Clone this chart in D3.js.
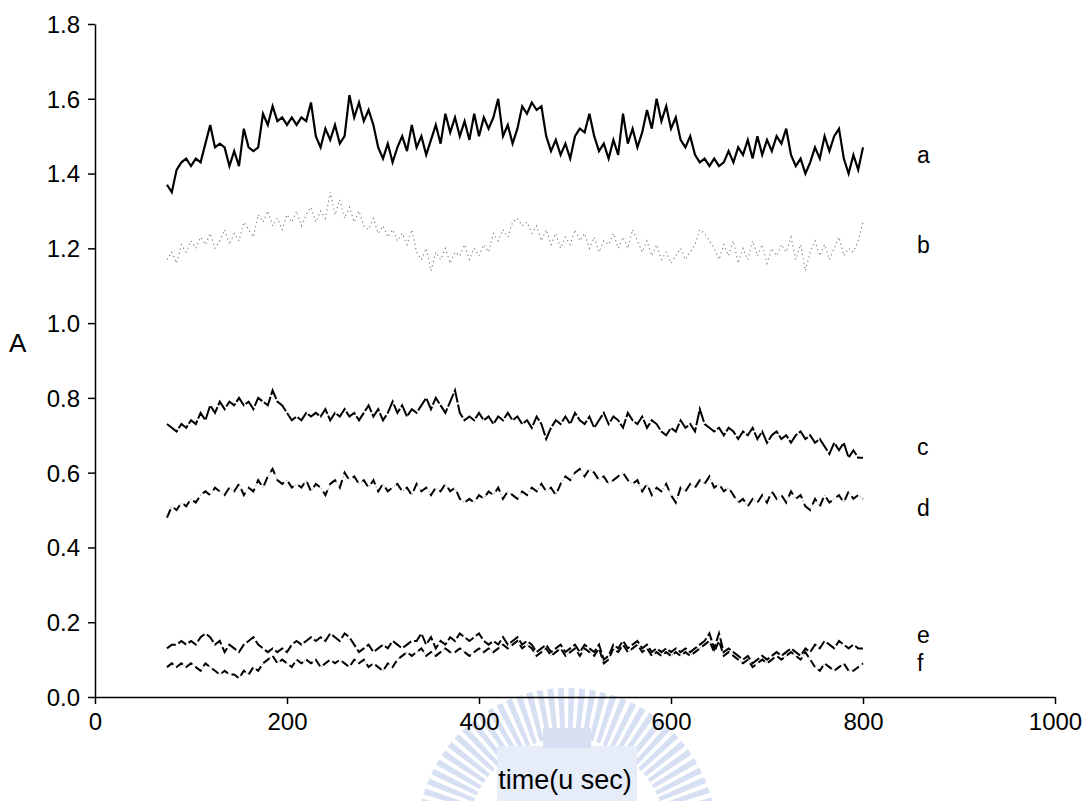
<!DOCTYPE html>
<html>
<head>
<meta charset="utf-8">
<script src="https://cdn.jsdelivr.net/npm/d3@7"></script>
<style>
  body { margin: 0; background: #fff; }
  svg text { font-family: "Liberation Sans", Arial, sans-serif; fill: #000; }
</style>
</head>
<body>
<div id="chart"></div>
<script>
var width = 1089
var height = 801

// sample times, every 5 u sec from 75 to 800
var times = d3.range(75, 801, 5)

var seriesA = [
  1.37, 1.35, 1.41, 1.43, 1.44, 1.42, 1.44, 1.43, 1.48, 1.53,
  1.47, 1.48, 1.47, 1.42, 1.46, 1.42, 1.52, 1.47, 1.46, 1.47,
  1.56, 1.53, 1.58, 1.54, 1.55, 1.53, 1.55, 1.53, 1.55, 1.54,
  1.59, 1.50, 1.47, 1.52, 1.49, 1.53, 1.48, 1.50, 1.61, 1.55,
  1.59, 1.54, 1.57, 1.53, 1.47, 1.44, 1.48, 1.43, 1.47, 1.50,
  1.46, 1.53, 1.47, 1.50, 1.45, 1.49, 1.53, 1.48, 1.56, 1.51,
  1.55, 1.50, 1.54, 1.49, 1.56, 1.50, 1.55, 1.52, 1.55, 1.60,
  1.50, 1.53, 1.48, 1.52, 1.58, 1.56, 1.59, 1.57, 1.58, 1.50,
  1.46, 1.49, 1.45, 1.48, 1.44, 1.50, 1.52, 1.51, 1.56, 1.50,
  1.46, 1.48, 1.44, 1.49, 1.45, 1.56, 1.48, 1.52, 1.47, 1.51,
  1.57, 1.52, 1.60, 1.54, 1.58, 1.52, 1.55, 1.49, 1.47, 1.50,
  1.45, 1.43, 1.44, 1.42, 1.44, 1.42, 1.43, 1.46, 1.43, 1.47,
  1.45, 1.49, 1.44, 1.50, 1.45, 1.49, 1.46, 1.50, 1.48, 1.52,
  1.45, 1.42, 1.44, 1.40, 1.43, 1.47, 1.44, 1.50, 1.46, 1.50,
  1.52, 1.44, 1.40, 1.45, 1.41, 1.47
]

var seriesB = [
  1.17, 1.19, 1.16, 1.21, 1.19, 1.22, 1.20, 1.23, 1.21, 1.24,
  1.20, 1.22, 1.25, 1.21, 1.24, 1.22, 1.27, 1.25, 1.23, 1.29,
  1.27, 1.30, 1.26, 1.28, 1.25, 1.29, 1.27, 1.30, 1.26, 1.29,
  1.31, 1.27, 1.30, 1.28, 1.35, 1.29, 1.33, 1.28, 1.31, 1.27,
  1.30, 1.26, 1.25, 1.28, 1.24, 1.26, 1.23, 1.25, 1.22, 1.24,
  1.21, 1.25, 1.19, 1.17, 1.20, 1.14, 1.19, 1.17, 1.20, 1.16,
  1.19, 1.18, 1.21, 1.17, 1.20, 1.18, 1.21, 1.19, 1.24, 1.22,
  1.25, 1.23, 1.27, 1.28, 1.26, 1.27, 1.24, 1.26, 1.22, 1.25,
  1.21, 1.24, 1.20, 1.23, 1.21, 1.25, 1.22, 1.24, 1.20, 1.23,
  1.19, 1.22, 1.21, 1.24, 1.20, 1.23, 1.20, 1.25, 1.22, 1.19,
  1.22, 1.18, 1.21, 1.17, 1.19, 1.16, 1.18, 1.20, 1.17, 1.19,
  1.21, 1.25, 1.24, 1.22, 1.20, 1.17, 1.21, 1.18, 1.22, 1.16,
  1.20, 1.17, 1.22, 1.18, 1.21, 1.16, 1.20, 1.18, 1.21, 1.19,
  1.23, 1.17, 1.21, 1.14, 1.19, 1.22, 1.18, 1.21, 1.17, 1.20,
  1.23, 1.18, 1.20, 1.19, 1.22, 1.27
]

var seriesC = [
  0.73, 0.72, 0.71, 0.73, 0.72, 0.74, 0.73, 0.76, 0.74, 0.78,
  0.76, 0.79, 0.77, 0.79, 0.78, 0.80, 0.78, 0.79, 0.77, 0.80,
  0.79, 0.78, 0.82, 0.79, 0.78, 0.76, 0.74, 0.75, 0.74, 0.76,
  0.75, 0.76, 0.75, 0.77, 0.74, 0.76, 0.75, 0.77, 0.75, 0.76,
  0.74, 0.76, 0.78, 0.75, 0.77, 0.74, 0.76, 0.79, 0.76, 0.78,
  0.75, 0.77, 0.76, 0.78, 0.80, 0.77, 0.80, 0.78, 0.76, 0.79,
  0.82, 0.76, 0.74, 0.75, 0.74, 0.76, 0.74, 0.75, 0.73, 0.75,
  0.74, 0.76, 0.74, 0.75, 0.73, 0.74, 0.72, 0.75, 0.73, 0.69,
  0.72, 0.74, 0.73, 0.75, 0.73, 0.76, 0.74, 0.73, 0.75, 0.72,
  0.74, 0.76, 0.73, 0.75, 0.74, 0.72, 0.76, 0.74, 0.73, 0.75,
  0.72, 0.74, 0.73, 0.71, 0.70, 0.72, 0.71, 0.74, 0.72, 0.73,
  0.71, 0.77, 0.73, 0.72, 0.71, 0.72, 0.70, 0.72, 0.71, 0.69,
  0.71, 0.70, 0.72, 0.69, 0.71, 0.68, 0.70, 0.71, 0.69, 0.70,
  0.68, 0.70, 0.71, 0.69, 0.70, 0.68, 0.69, 0.67, 0.65, 0.68,
  0.66, 0.68, 0.64, 0.66, 0.64, 0.64
]

var seriesD = [
  0.48, 0.51, 0.50, 0.52, 0.51, 0.53, 0.52, 0.54, 0.55, 0.54,
  0.56, 0.55, 0.54, 0.56, 0.55, 0.57, 0.54, 0.56, 0.55, 0.58,
  0.56, 0.59, 0.61, 0.58, 0.57, 0.58, 0.56, 0.57, 0.56, 0.58,
  0.55, 0.57, 0.56, 0.54, 0.57, 0.58, 0.56, 0.60, 0.58, 0.59,
  0.57, 0.58, 0.56, 0.58, 0.55, 0.57, 0.55, 0.56, 0.57, 0.55,
  0.56, 0.54, 0.57, 0.55, 0.56, 0.54, 0.56, 0.55, 0.57, 0.55,
  0.56, 0.53, 0.52, 0.53, 0.52, 0.54, 0.53, 0.55, 0.54, 0.56,
  0.53, 0.55, 0.54, 0.53, 0.55, 0.54, 0.56, 0.55, 0.57, 0.55,
  0.56, 0.54, 0.57, 0.59, 0.58, 0.60, 0.61, 0.59, 0.61, 0.60,
  0.58, 0.59, 0.57, 0.58, 0.59, 0.60, 0.58, 0.57, 0.58, 0.55,
  0.57, 0.54, 0.56, 0.55, 0.57, 0.54, 0.52, 0.56, 0.55, 0.57,
  0.56, 0.58, 0.57, 0.59, 0.56, 0.57, 0.55, 0.56, 0.54, 0.52,
  0.53, 0.51, 0.53, 0.52, 0.54, 0.52, 0.55, 0.53, 0.54, 0.52,
  0.55, 0.53, 0.54, 0.51, 0.50, 0.53, 0.51, 0.54, 0.52, 0.53,
  0.54, 0.52, 0.55, 0.53, 0.54, 0.53
]

var seriesE = [
  0.13, 0.14, 0.14, 0.15, 0.14, 0.15, 0.14, 0.16, 0.17, 0.16,
  0.14, 0.15, 0.12, 0.14, 0.13, 0.12, 0.14, 0.15, 0.16, 0.14,
  0.13, 0.12, 0.13, 0.12, 0.13, 0.12, 0.14, 0.15, 0.14, 0.15,
  0.16, 0.15, 0.16, 0.15, 0.17, 0.16, 0.15, 0.17, 0.16, 0.14,
  0.12, 0.13, 0.14, 0.12, 0.13, 0.14, 0.13, 0.15, 0.14, 0.13,
  0.14, 0.15, 0.15, 0.17, 0.14, 0.16, 0.13, 0.15, 0.14, 0.16,
  0.15, 0.17, 0.16, 0.15, 0.16, 0.17, 0.15, 0.14, 0.15, 0.14,
  0.16, 0.14, 0.15, 0.16, 0.14, 0.15, 0.14, 0.12, 0.13, 0.14,
  0.12, 0.13, 0.14, 0.12, 0.13, 0.14, 0.12, 0.14, 0.13, 0.12,
  0.14, 0.10, 0.11, 0.14, 0.13, 0.15, 0.13, 0.14, 0.15, 0.13,
  0.14, 0.12, 0.13, 0.12, 0.13, 0.12, 0.13, 0.12, 0.13, 0.12,
  0.13, 0.14, 0.15, 0.17, 0.13, 0.17, 0.12, 0.13, 0.12, 0.11,
  0.10, 0.11, 0.09, 0.10, 0.11, 0.10, 0.11, 0.12, 0.11, 0.12,
  0.13, 0.12, 0.11, 0.13, 0.12, 0.14, 0.13, 0.15, 0.14, 0.13,
  0.15, 0.14, 0.13, 0.14, 0.13, 0.13
]

var seriesF = [
  0.08, 0.09, 0.08, 0.09, 0.08, 0.09, 0.08, 0.07, 0.09, 0.08,
  0.07, 0.06, 0.07, 0.06, 0.06, 0.05, 0.07, 0.06, 0.08, 0.07,
  0.09, 0.10, 0.11, 0.09, 0.10, 0.09, 0.08, 0.10, 0.09, 0.10,
  0.09, 0.10, 0.08, 0.09, 0.10, 0.09, 0.10, 0.09, 0.08, 0.10,
  0.09, 0.10, 0.08, 0.09, 0.08, 0.07, 0.09, 0.08, 0.10, 0.11,
  0.12, 0.11, 0.12, 0.13, 0.11, 0.12, 0.11, 0.12, 0.13, 0.12,
  0.12, 0.13, 0.12, 0.11, 0.12, 0.13, 0.12, 0.13, 0.12, 0.13,
  0.14, 0.13, 0.14, 0.15, 0.13, 0.14, 0.13, 0.11, 0.12, 0.13,
  0.11, 0.12, 0.13, 0.11, 0.12, 0.13, 0.11, 0.13, 0.12, 0.11,
  0.13, 0.09, 0.10, 0.13, 0.12, 0.14, 0.12, 0.13, 0.14, 0.12,
  0.13, 0.11, 0.12, 0.11, 0.12, 0.11, 0.12, 0.11, 0.12, 0.11,
  0.12, 0.13, 0.14, 0.15, 0.12, 0.15, 0.11, 0.12, 0.11, 0.10,
  0.09, 0.10, 0.08, 0.09, 0.10, 0.09, 0.10, 0.11, 0.10, 0.11,
  0.12, 0.11, 0.10, 0.12, 0.10, 0.08, 0.07, 0.09, 0.08, 0.07,
  0.08, 0.09, 0.07, 0.07, 0.08, 0.09
]

var xTicks = [0, 200, 400, 600, 800, 1000]
var yTicks = [0, 0.2, 0.4, 0.6, 0.8, 1.0, 1.2, 1.4, 1.6, 1.8]

var xScale = d3.scaleLinear().domain([0, 1000]).range([95, 1055])
var yScale = d3.scaleLinear().domain([0, 1.8]).range([697, 24])

var svg = d3.select('#chart').append('svg')
    .attr('width', width)
    .attr('height', height)

// faint watermark behind the x title
var wm = svg.append('g').attr('transform', 'translate(567,838)')
var rays = d3.range(0, 44)
wm.selectAll('path.ray')
    .data(rays)
    .enter().append('path')
    .attr('class', 'ray')
    .attr('d', d3.arc()
        .innerRadius(100)
        .outerRadius(150)
        .startAngle(d => -Math.PI / 2 + d * Math.PI / 44 + 0.01)
        .endAngle(d => -Math.PI / 2 + (d + 1) * Math.PI / 44 - 0.02))
    .style('fill', '#d6e0f2')
wm.append('rect').attr('x', -70).attr('y', -92).attr('width', 140).attr('height', 92)
    .style('fill', '#e6edf8')
wm.append('rect').attr('x', -24).attr('y', -110).attr('width', 48).attr('height', 20)
    .style('fill', '#d6e0f2')

// axes
var xAxis = d3.axisBottom(xScale).tickValues(xTicks).tickSize(7).tickSizeOuter(0)
    .tickFormat(d3.format('d'))
var yAxis = d3.axisLeft(yScale).tickValues(yTicks).tickSize(7).tickSizeOuter(0)
    .tickFormat(d3.format('.1f'))

var gx = svg.append('g').attr('transform', 'translate(0,697)').call(xAxis)
var gy = svg.append('g').attr('transform', 'translate(95,0)').call(yAxis)

svg.selectAll('.domain, .tick line').style('stroke', '#000').style('stroke-width', 1.5)
gx.selectAll('text').style('font-size', '24px').attr('dy', '0.95em')
gy.selectAll('text').style('font-size', '24px').attr('x', -15).attr('dy', '0.35em')
svg.selectAll('.tick text').style('font-family', '"Liberation Sans", Arial, sans-serif')

// lines
var line = d3.line()
    .x((d, i) => xScale(times[i]))
    .y(d => yScale(d))

svg.append('path').datum(seriesA).attr('d', line)
    .style('fill', 'none').style('stroke', '#000').style('stroke-width', 2.2)

svg.append('path').datum(seriesB).attr('d', line)
    .style('fill', 'none').style('stroke', '#777').style('stroke-width', 1.1)
    .style('stroke-dasharray', '1.2,3.2')

svg.append('path').datum(seriesC).attr('d', line)
    .style('fill', 'none').style('stroke', '#000').style('stroke-width', 2)
    .style('stroke-dasharray', '14,2')

svg.append('path').datum(seriesD).attr('d', line)
    .style('fill', 'none').style('stroke', '#999').style('stroke-width', 1)
    .style('stroke-dasharray', '1.5,2')
svg.append('path').datum(seriesD).attr('d', line)
    .style('fill', 'none').style('stroke', '#000').style('stroke-width', 2)
    .style('stroke-dasharray', '9,6')

svg.append('path').datum(seriesE).attr('d', line)
    .style('fill', 'none').style('stroke', '#000').style('stroke-width', 2)
    .style('stroke-dasharray', '10,3')

svg.append('path').datum(seriesF).attr('d', line)
    .style('fill', 'none').style('stroke', '#999').style('stroke-width', 1)
    .style('stroke-dasharray', '1.5,2')
svg.append('path').datum(seriesF).attr('d', line)
    .style('fill', 'none').style('stroke', '#000').style('stroke-width', 2)
    .style('stroke-dasharray', '8,4')

// series labels
var labels = [
  { name: 'a', v: 1.45 },
  { name: 'b', v: 1.21 },
  { name: 'c', v: 0.67 },
  { name: 'd', v: 0.505 },
  { name: 'e', v: 0.167 },
  { name: 'f', v: 0.09 }
]
svg.selectAll('text.lbl')
    .data(labels)
    .enter().append('text')
    .attr('class', 'lbl')
    .attr('x', 917)
    .attr('y', d => yScale(d.v))
    .attr('dy', '0.35em')
    .style('font-size', '23px')
    .text(d => d.name)

// axis titles
svg.append('text').attr('x', 9).attr('y', 352)
    .style('font-size', '26px').text('A')

svg.append('text').attr('x', 565).attr('y', 789)
    .attr('text-anchor', 'middle')
    .style('font-size', '27px').text('time(u sec)')
</script>
</body>
</html>
